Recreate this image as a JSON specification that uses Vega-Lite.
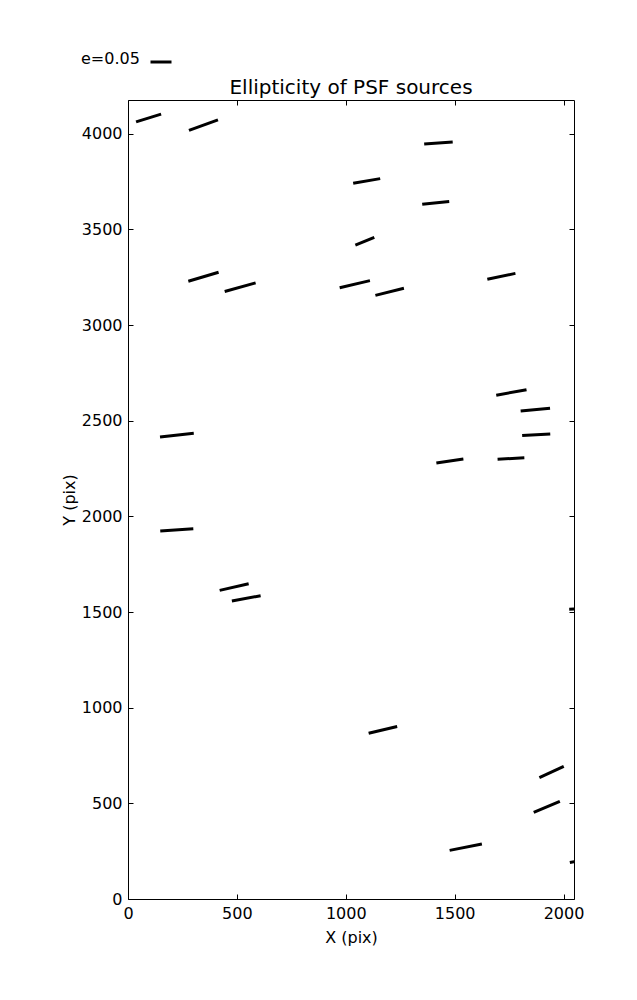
{
  "$schema": "https://vega.github.io/schema/vega-lite/v6.json",
  "width": 446,
  "height": 799,
  "padding": {"left": 61, "top": 50, "right": 5, "bottom": 5},
  "background": "white",
  "title": {"text": "Ellipticity of PSF sources", "fontSize": 20, "fontWeight": "normal", "font": "DejaVu Sans", "color": "black", "offset": -48, "anchor": "middle"},
  "data": {"values": [
    {"x1": 37, "y1": 4062, "x2": 152, "y2": 4102},
    {"x1": 280, "y1": 4017, "x2": 413, "y2": 4072},
    {"x1": 1360, "y1": 3946, "x2": 1491, "y2": 3956},
    {"x1": 1034, "y1": 3741, "x2": 1158, "y2": 3765},
    {"x1": 1351, "y1": 3631, "x2": 1475, "y2": 3645},
    {"x1": 1044, "y1": 3417, "x2": 1131, "y2": 3458},
    {"x1": 277, "y1": 3229, "x2": 416, "y2": 3276},
    {"x1": 444, "y1": 3175, "x2": 586, "y2": 3220},
    {"x1": 972, "y1": 3195, "x2": 1111, "y2": 3232},
    {"x1": 1136, "y1": 3155, "x2": 1267, "y2": 3192},
    {"x1": 1650, "y1": 3239, "x2": 1779, "y2": 3270},
    {"x1": 1691, "y1": 2633, "x2": 1830, "y2": 2662},
    {"x1": 1803, "y1": 2551, "x2": 1938, "y2": 2565},
    {"x1": 147, "y1": 2415, "x2": 302, "y2": 2434},
    {"x1": 1810, "y1": 2422, "x2": 1939, "y2": 2430},
    {"x1": 1416, "y1": 2279, "x2": 1540, "y2": 2300},
    {"x1": 1697, "y1": 2298, "x2": 1820, "y2": 2306},
    {"x1": 148, "y1": 1924, "x2": 300, "y2": 1935},
    {"x1": 421, "y1": 1613, "x2": 554, "y2": 1648},
    {"x1": 477, "y1": 1558, "x2": 609, "y2": 1585},
    {"x1": 2026, "y1": 1515, "x2": 2150, "y2": 1518},
    {"x1": 1105, "y1": 866, "x2": 1236, "y2": 902},
    {"x1": 1889, "y1": 634, "x2": 2001, "y2": 693},
    {"x1": 1863, "y1": 453, "x2": 1983, "y2": 510},
    {"x1": 1477, "y1": 254, "x2": 1625, "y2": 287},
    {"x1": 2029, "y1": 191, "x2": 2140, "y2": 215}
  ]},
  "layer": [
    {
      "mark": {"type": "rule", "strokeWidth": 3, "clip": true},
      "encoding": {
        "x": {"field": "x1", "type": "quantitative", "scale": {"domain": [0, 2048], "nice": false, "zero": false},
              "axis": {"title": "X (pix)", "orient": "bottom", "titlePadding": 8, "values": [0, 500, 1000, 1500, 2000]}},
        "y": {"field": "y1", "type": "quantitative", "scale": {"domain": [0, 4176], "nice": false, "zero": false},
              "axis": {"title": "Y (pix)", "orient": "left", "values": [0, 500, 1000, 1500, 2000, 2500, 3000, 3500, 4000]}},
        "x2": {"field": "x2"},
        "y2": {"field": "y2"},
        "color": {"datum": "e=0.05", "type": "nominal", "scale": {"range": ["black"]},
                  "legend": {"orient": "none", "legendX": -47, "legendY": -50, "title": "e=0.05", "titleOrient": "left",
                             "titleFontSize": 16, "titleFontWeight": "normal", "titleFont": "DejaVu Sans", "titleColor": "black",
                             "titlePadding": 9, "symbolType": "stroke", "symbolSize": 441, "symbolStrokeWidth": 3,
                             "labelExpr": "''", "labelFontSize": 1, "padding": 0}}
      }
    },
    {
      "mark": {"type": "rule", "strokeOpacity": 0},
      "encoding": {
        "x": {"field": "x1", "type": "quantitative",
              "axis": {"title": null, "orient": "top", "labels": false, "values": [0, 500, 1000, 1500, 2000]}},
        "y": {"field": "y1", "type": "quantitative",
              "axis": {"title": null, "orient": "right", "labels": false, "values": [0, 500, 1000, 1500, 2000, 2500, 3000, 3500, 4000]}}
      }
    }
  ],
  "config": {
    "view": {"stroke": "black", "strokeWidth": 1},
    "axis": {"grid": false, "domain": false, "tickSize": -5, "tickColor": "black", "tickWidth": 1, "format": "d",
             "labelFont": "DejaVu Sans", "labelFontSize": 16, "labelColor": "black", "labelPadding": 11,
             "titleFont": "DejaVu Sans", "titleFontSize": 16, "titleFontWeight": "normal", "titleColor": "black",
             "labelFlush": false, "labelOverlap": false}
  }
}
